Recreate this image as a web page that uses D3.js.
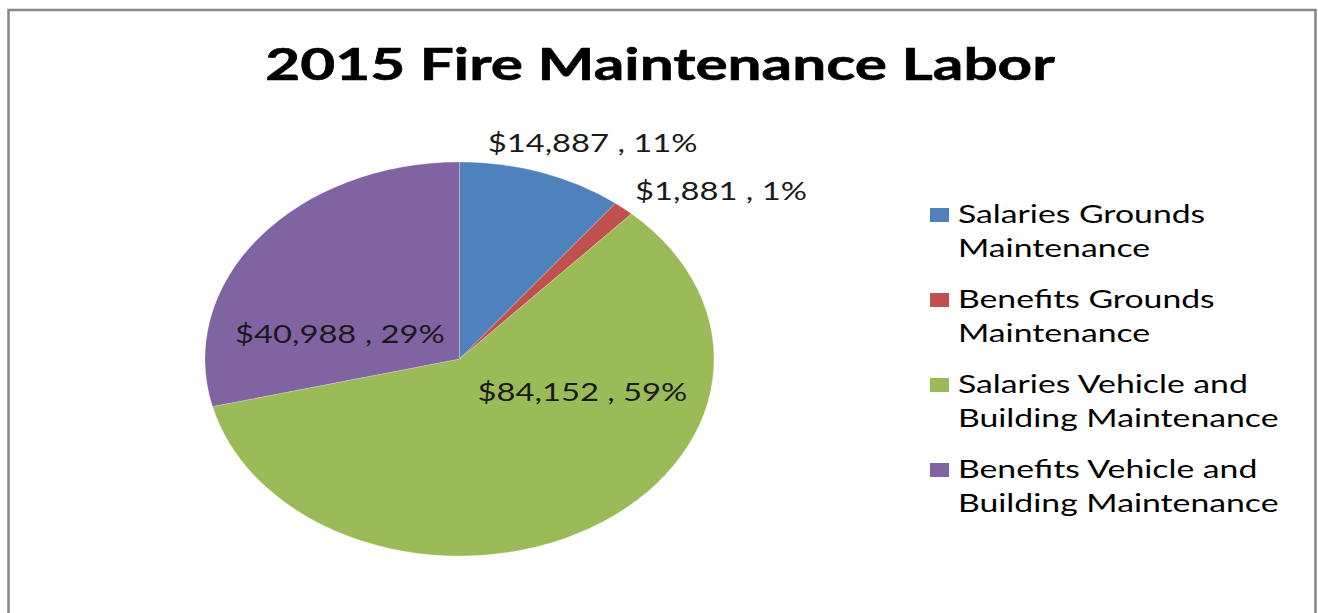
<!DOCTYPE html>
<html>
<head>
<meta charset="utf-8">
<script src="https://cdn.jsdelivr.net/npm/d3@7/dist/d3.min.js"></script>
<style>
  html, body { margin: 0; padding: 0; background: #fff; }
  svg { display: block; }
</style>
</head>
<body>
<svg id="chart" width="1318" height="613"></svg>
<script>
// ---- Data ----
const title = "2015 Fire Maintenance Labor";
const categories = [
  "Salaries Grounds Maintenance",
  "Benefits Grounds Maintenance",
  "Salaries Vehicle and Building Maintenance",
  "Benefits Vehicle and Building Maintenance"
];
const legendLines = [
  ["Salaries Grounds", "Maintenance"],
  ["Benefits Grounds", "Maintenance"],
  ["Salaries Vehicle and", "Building Maintenance"],
  ["Benefits Vehicle and", "Building Maintenance"]
];
const values = [14887, 1881, 84152, 40988];
const percents = ["11%", "1%", "59%", "29%"];
const colors = ["#4F81BD", "#C0504D", "#9BBB59", "#8064A2"];

// ---- Layout (styles / positions, not data) ----
const W = 1318, H = 613;
const cx = 459.5, cy = 359, ry = 197, rx = 254.5;
const SX_LABEL = 1.31;   // horizontal stretch of the original picture
const SX_LEGEND = 1.35;
const SX_TITLE = 1.37;
// label anchor offsets as fractions of the radii (best-fit placement)
const labelPos = [[0.523, -1.050], [1.0275, -0.807], [0.483, 0.213], [-0.470, -0.081]];

const svg = d3.select("#chart");

// frame
svg.append("rect")
  .attr("x", 8.5).attr("y", 10).attr("width", 1307).attr("height", H + 20)
  .attr("fill", "#fff").attr("stroke", "#878787").attr("stroke-width", 2.5);

// title
svg.append("text")
  .attr("transform", `translate(660,80) scale(${SX_TITLE},1)`)
  .attr("text-anchor", "middle")
  .attr("font-family", "Lato, 'Open Sans', sans-serif")
  .attr("font-weight", "bold")
  .attr("font-size", 44)
  .attr("fill", "#000")
  .attr("stroke", "#000").attr("stroke-width", 0.6)
  .text(title);

// pie
const pie = d3.pie().sort(null).value(d => d)(values);
const arc = d3.arc().innerRadius(0).outerRadius(ry);
const g = svg.append("g").attr("transform", `translate(${cx},${cy}) scale(${rx / ry},1)`);
g.selectAll("path").data(pie).join("path")
  .attr("d", arc)
  .attr("fill", (d, i) => colors[i])
  .attr("stroke", "rgba(255,255,255,0.35)")
  .attr("stroke-width", 0.6)
  .attr("vector-effect", "non-scaling-stroke");

// data labels
const fmt = d3.format("$,");
svg.append("g").selectAll("text").data(pie).join("text")
  .attr("transform", (d, i) => `translate(${cx + labelPos[i][0] * rx},${cy + labelPos[i][1] * ry}) scale(${SX_LABEL},1)`)
  .attr("text-anchor", "middle")
  .attr("font-family", "Lato, 'Open Sans', sans-serif")
  .attr("font-size", 25)
  .attr("fill", "#1a1a1a")
  .text((d, i) => `${fmt(d.data)} , ${percents[i]}`);

// legend
const lg = svg.append("g");
const items = lg.selectAll("g").data(categories).join("g")
  .attr("transform", (d, i) => `translate(930,${208 + i * 85})`);
items.append("rect")
  .attr("width", 19).attr("height", 14)
  .attr("fill", (d, i) => colors[i]);
items.each(function (d, i) {
  const it = d3.select(this);
  legendLines[i].forEach((line, j) => {
    it.append("text")
      .attr("transform", `translate(28,${15 + j * 34}) scale(${SX_LEGEND},1)`)
      .attr("font-family", "Lato, 'Open Sans', sans-serif")
      .attr("font-size", 25)
      .attr("fill", "#000")
      .text(line);
  });
});
</script>
</body>
</html>
